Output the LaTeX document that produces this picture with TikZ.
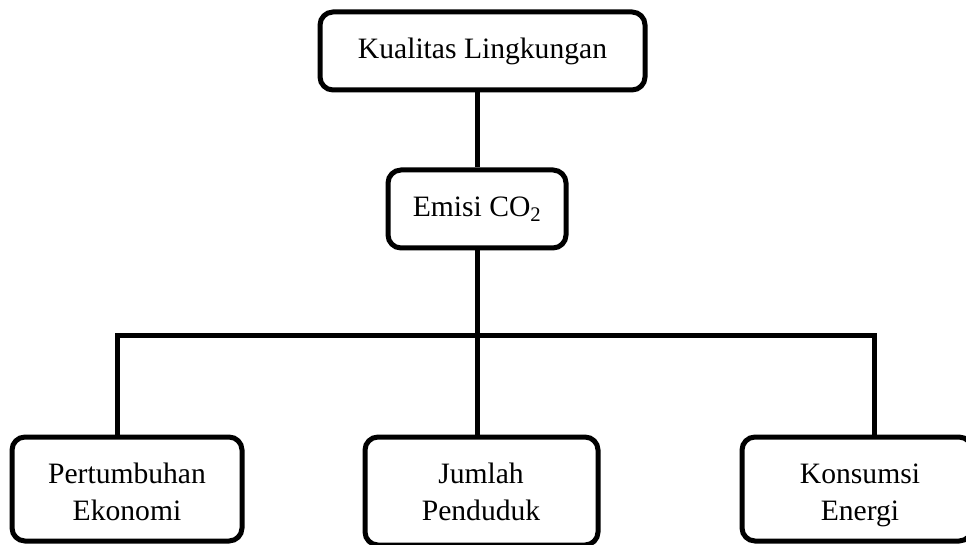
\documentclass[tikz,border=0pt]{standalone}
\usepackage{fontspec}
\setmainfont{Liberation Serif}
\begin{document}
\begin{tikzpicture}[x=1pt,y=1pt,
  box/.style={draw=black,line width=5pt,rounded corners=13pt,fill=white,
    align=center,inner sep=0pt,font=\fontsize{29.6}{37}\selectfont},
  txt/.style={align=center,inner sep=0pt,font=\fontsize{29.6}{37}\selectfont},
  link/.style={draw=black,line width=5pt}]
\useasboundingbox (0,0) rectangle (966,-545);
\clip (0,0) rectangle (966,-545);
\node[box,minimum width=325pt,minimum height=78pt] (kl) at (482.5,-51) {Kualitas Lingkungan};
\node[box,minimum width=178pt,minimum height=78pt] (em) at (477,-209) {Emisi CO\textsubscript{2}};
\node[box,minimum width=230pt,minimum height=104pt] (pe) at (127,-489) {};
\node[box,minimum width=233pt,minimum height=108pt] (ju) at (481.5,-491) {};
\node[box,minimum width=230pt,minimum height=104pt] (ko) at (857,-489) {};
\node[txt] (pet) at (127,-495) {Pertumbuhan\strut\\Ekonomi\strut};
\node[txt] (jut) at (481,-495) {Jumlah\strut\\Penduduk\strut};
\node[txt] (kot) at (860,-495) {Konsumsi\strut\\Energi\strut};
\coordinate (hl) at (117,-335);
\coordinate (hr) at (874,-335);
\draw[link] (kl.south -| em.north) -- (em.north);
\draw[link] (em.south) -- (em.south |- ju.north);
\draw[link,line join=miter] (hl |- pe.north) -- (hl) -- (hr) -- (hr |- ko.north);
\end{tikzpicture}
\end{document}
